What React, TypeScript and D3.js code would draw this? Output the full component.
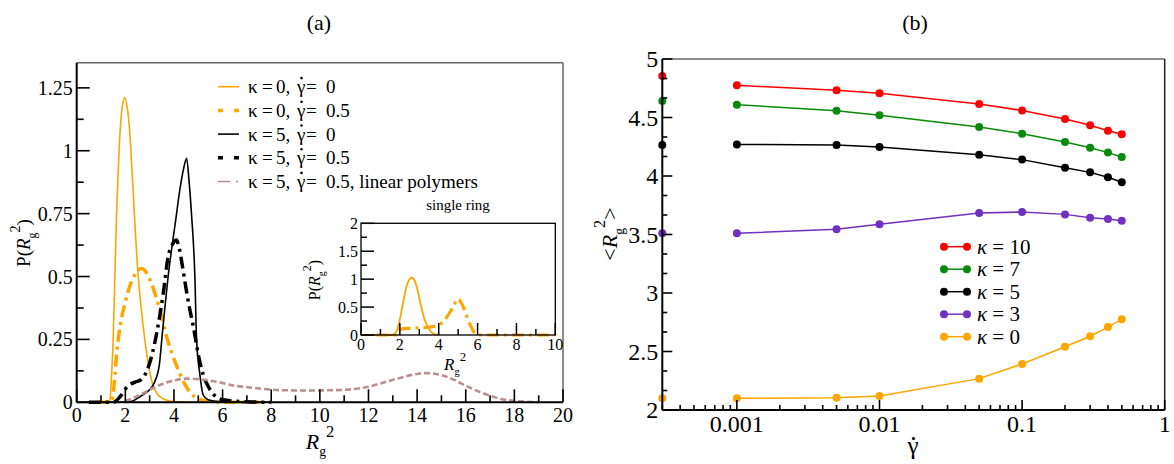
import React from "react";
import * as d3 from "d3";

// ---------- Panel (a) data: P(Rg^2) distributions ----------
const k0g0X = [0.5, 1.3, 1.37, 1.43, 1.5, 1.57, 1.64, 1.72, 1.8, 1.9, 1.98, 2.08, 2.16, 2.23, 2.37, 2.53, 2.68, 2.8, 2.95, 3.1, 3.3, 3.6, 4.0, 5.0, 7.5];
const k0g0Y = [0, 0, 0.01, 0.1, 0.25, 0.5, 0.75, 0.95, 1.1, 1.19, 1.21, 1.17, 1.1, 1.0, 0.75, 0.5, 0.35, 0.25, 0.15, 0.08, 0.035, 0.012, 0.003, 0, 0];

const k0g05X = [0.8, 1.3, 1.45, 1.55, 1.65, 1.8, 2.0, 2.25, 2.45, 2.67, 2.9, 3.08, 3.42, 3.7, 4.05, 4.4, 4.7, 5.0, 5.5, 6.0, 7.5];
const k0g05Y = [0, 0, 0.01, 0.08, 0.2, 0.31, 0.4, 0.48, 0.515, 0.532, 0.51, 0.47, 0.367, 0.26, 0.16, 0.08, 0.035, 0.015, 0.003, 0, 0];

const k5g0X = [0.5, 2.0, 2.3, 2.6, 2.8, 3.0, 3.2, 3.4, 3.5, 3.62, 3.76, 3.92, 4.08, 4.25, 4.4, 4.52, 4.62, 4.72, 4.86, 4.93, 5.06, 5.2, 5.4, 5.8, 6.5, 8.0];
const k5g0Y = [0, 0, 0.005, 0.022, 0.035, 0.05, 0.08, 0.15, 0.25, 0.37, 0.5, 0.62, 0.73, 0.85, 0.93, 0.97, 0.88, 0.75, 0.5, 0.25, 0.115, 0.03, 0.01, 0.003, 0, 0];

const k5g05X = [0.5, 1.5, 1.78, 2.1, 2.4, 2.65, 2.9, 3.1, 3.3, 3.56, 3.76, 3.95, 4.1, 4.2, 4.35, 4.5, 4.65, 4.8, 5.0, 5.2, 5.4, 5.6, 6.0, 7.0, 8.0];
const k5g05Y = [0, 0, 0.022, 0.065, 0.08, 0.09, 0.128, 0.19, 0.28, 0.433, 0.578, 0.63, 0.645, 0.62, 0.54, 0.45, 0.37, 0.3, 0.19, 0.11, 0.065, 0.035, 0.01, 0.002, 0];

const linX = [2.0, 2.4, 2.74, 3.1, 3.5, 4.0, 4.5, 5.0, 5.84, 6.43, 7.2, 8.5, 9.5, 10.5, 11.1, 12.0, 12.5, 13.1, 13.7, 14.35, 15.0, 15.5, 16.0, 16.6, 17.2, 17.7, 18.2, 18.7, 19.0];
const linY = [0.005, 0.02, 0.036, 0.055, 0.072, 0.087, 0.094, 0.092, 0.08, 0.067, 0.058, 0.048, 0.047, 0.048, 0.05, 0.062, 0.075, 0.092, 0.107, 0.116, 0.108, 0.09, 0.066, 0.04, 0.02, 0.009, 0.004, 0.001, 0];

// inset: single ring
const ringG0X = [0, 1.5, 1.75, 1.95, 2.15, 2.35, 2.5, 2.61, 2.75, 2.9, 3.1, 3.3, 3.55, 3.8, 4.0];
const ringG0Y = [0, 0, 0.02, 0.2, 0.55, 0.88, 1.0, 1.03, 0.98, 0.82, 0.5, 0.25, 0.08, 0.01, 0];
const ringG05X = [0.8, 1.8, 2.0, 2.5, 3.0, 3.5, 4.0, 4.3, 4.6, 4.8, 5.0, 5.2, 5.4, 5.6, 5.8, 6.0, 7.0, 10.0];
const ringG05Y = [0, 0, 0.1, 0.12, 0.13, 0.14, 0.18, 0.27, 0.42, 0.55, 0.65, 0.55, 0.38, 0.2, 0.06, 0, 0, 0];

const aXTicks = [0, 2, 4, 6, 8, 10, 12, 14, 16, 18, 20];
const aYTicks = [0, 0.25, 0.5, 0.75, 1, 1.25];
const aYTickLabels = ["0", "0.25", "0.5", "0.75", "1", "1.25"];
const insetXTicks = [0, 2, 4, 6, 8, 10];
const insetYTicks = [0, 0.5, 1, 1.5, 2];
const insetYTickLabels = ["0", "0.5", "1", "1.5", "2"];

const legendA = [
  { k: "0", g: "0", key: "k0g0" },
  { k: "0", g: "0.5", key: "k0g05" },
  { k: "5", g: "0", key: "k5g0" },
  { k: "5", g: "0.5", key: "k5g05" },
  { k: "5", g: "0.5, linear polymers", key: "lin" },
];

// ---------- Panel (b) data: <Rg^2> vs shear rate ----------
const gammaDot = [0.001, 0.005, 0.01, 0.05, 0.1, 0.2, 0.3, 0.4, 0.5];
const rgK10 = [4.775, 4.732, 4.707, 4.615, 4.56, 4.487, 4.433, 4.387, 4.356];
const rgK7 = [4.61, 4.558, 4.519, 4.419, 4.362, 4.29, 4.242, 4.2, 4.162];
const rgK5 = [4.27, 4.265, 4.248, 4.182, 4.14, 4.071, 4.031, 3.989, 3.946];
const rgK3 = [3.51, 3.544, 3.587, 3.684, 3.692, 3.672, 3.644, 3.632, 3.618];
const rgK0 = [2.1, 2.105, 2.12, 2.268, 2.393, 2.541, 2.63, 2.709, 2.775];
const gammaZeroPos = 0.0003; // equilibrium values drawn at the axis edge
const rgEquilibrium = [4.855, 4.64, 4.265, 3.51, 2.1];
const kappaLabels = ["10", "7", "5", "3", "0"];
const kappaColors = ["#ff0000", "#0a8a0a", "#000000", "#7030c0", "#ffa500"];
const bXTicks = [0.001, 0.01, 0.1, 1];
const bXTickLabels = ["0.001", "0.01", "0.1", "1"];
const bYTicks = [2, 2.5, 3, 3.5, 4, 4.5, 5];
const bYTickLabels = ["2", "2.5", "3", "3.5", "4", "4.5", "5"];

const FONT = "'Liberation Serif', 'Times New Roman', serif";
const DASHDOT = "12,5,3,5";

// R_g^2 with optional trailing text returning to the baseline
function Rg2({ size, after }: { size: number; after?: string }) {
  return (
    <>
      <tspan fontStyle="italic">R</tspan>
      <tspan fontSize={size * 0.62} dy={size * 0.3}>g</tspan>
      <tspan fontSize={size * 0.75} dy={-size * 0.85}>2</tspan>
      {after ? <tspan dy={size * 0.55}>{after}</tspan> : null}
    </>
  );
}

export default function App() {
  // panel (a) scales
  const ax = d3.scaleLinear().domain([0, 20]).range([76.7, 563]);
  const ay = d3.scaleLinear().domain([0, 1.35]).range([402.3, 62.7]);
  const ix = d3.scaleLinear().domain([0, 10]).range([361, 555.3]);
  const iy = d3.scaleLinear().domain([0, 2]).range([335, 223.3]);
  // panel (b) scales
  const bx = d3.scaleLog().domain([0.0003, 1]).range([662.3, 1164.7]);
  const by = d3.scaleLinear().domain([2, 5]).range([410, 59]);

  const lineA = (xs: number[], ys: number[]) =>
    d3.line<number>().x((_, i) => ax(xs[i])).y((_, i) => ay(ys[i])).curve(d3.curveMonotoneX)(xs) || "";
  const lineI = (xs: number[], ys: number[]) =>
    d3.line<number>().x((_, i) => ix(xs[i])).y((_, i) => iy(ys[i])).curve(d3.curveMonotoneX)(xs) || "";
  const lineB = (ys: number[]) =>
    d3.line<number>().x((_, i) => bx(gammaDot[i])).y((d) => by(d))(ys) || "";

  const aXMinor = d3.range(1, 20, 2);
  const aYMinor = d3.range(0.125, 1.35, 0.25);
  const iXMinor = d3.range(1, 10, 2);
  const iYMinor = d3.range(0.25, 2, 0.5);
  const bYMinor: number[] = [];
  for (let v = 2; v < 5; v += 0.5) { bYMinor.push(v + 0.5 / 3, v + 1 / 3); }
  const bXMinor: number[] = [];
  [0.0001, 0.001, 0.01, 0.1].forEach((dec) => {
    for (let m = 2; m <= 9; m++) { const v = dec * m; if (v > 0.0003 && v < 1) bXMinor.push(v); }
  });

  const aSeries = [
    { key: "k0g0", d: lineA(k0g0X, k0g0Y), stroke: "#ffa500", w: 1.6, dash: undefined },
    { key: "k0g05", d: lineA(k0g05X, k0g05Y), stroke: "#ffa500", w: 3.5, dash: DASHDOT },
    { key: "k5g0", d: lineA(k5g0X, k5g0Y), stroke: "#000", w: 1.6, dash: undefined },
    { key: "k5g05", d: lineA(k5g05X, k5g05Y), stroke: "#000", w: 3.5, dash: DASHDOT },
    { key: "lin", d: lineA(linX, linY), stroke: "#bc8f8f", w: 2.6, dash: "6,3" },
  ];
  const legendStyle: Record<string, { stroke: string; w: number; dash?: string }> = {
    k0g0: { stroke: "#ffa500", w: 1.6 },
    k0g05: { stroke: "#ffa500", w: 3.5, dash: "5,11,5" },
    k5g0: { stroke: "#000", w: 1.6 },
    k5g05: { stroke: "#000", w: 3.5, dash: "5,11,5" },
    lin: { stroke: "#bc8f8f", w: 1.6, dash: "12,6,2,6" },
  };
  const bSeries = [rgK10, rgK7, rgK5, rgK3, rgK0];
  const LGF = 19;
  const LX = 248;

  return (
    <div style={{ position: "fixed", left: 0, top: 0 }}>
      <svg width={1174} height={464} style={{ display: "block", background: "#fff" }} fontFamily={FONT}>
        {/* ===== Panel (a) ===== */}
        <text x={319} y={30} fontSize={22} textAnchor="middle">(a)</text>
        <g>
          {aSeries.map((s) => (
            <path key={s.key} d={s.d} fill="none" stroke={s.stroke} strokeWidth={s.w} strokeDasharray={s.dash} />
          ))}
          {/* frame */}
          <line x1={ax(0)} x2={ax(20)} y1={ay(1.35)} y2={ay(1.35)} stroke="#666" strokeWidth={1.5} />
          <line x1={ax(20)} x2={ax(20)} y1={ay(1.35)} y2={ay(0)} stroke="#666" strokeWidth={1.5} />
          <line x1={ax(0)} x2={ax(20)} y1={ay(0)} y2={ay(0)} stroke="#000" strokeWidth={2} />
          <line x1={ax(0)} x2={ax(0)} y1={ay(1.35)} y2={ay(0)} stroke="#000" strokeWidth={2} />
          {aXTicks.map((t) => (
            <g key={"ax" + t}>
              <line x1={ax(t)} x2={ax(t)} y1={ay(0)} y2={ay(0) - 13} stroke="#000" strokeWidth={1.6} />
              <text x={ax(t)} y={ay(0) + 20} fontSize={20} textAnchor="middle">{t}</text>
            </g>
          ))}
          {aXMinor.map((t) => (
            <line key={"axm" + t} x1={ax(t)} x2={ax(t)} y1={ay(0)} y2={ay(0) - 7} stroke="#000" strokeWidth={1.6} />
          ))}
          {aYTicks.map((t, i) => (
            <g key={"ay" + t}>
              <line x1={ax(0)} x2={ax(0) + 13} y1={ay(t)} y2={ay(t)} stroke="#000" strokeWidth={1.6} />
              <text x={ax(0) - 4} y={ay(t) + 7} fontSize={20} textAnchor="end">{aYTickLabels[i]}</text>
            </g>
          ))}
          {aYMinor.map((t) => (
            <line key={"aym" + t} x1={ax(0)} x2={ax(0) + 7} y1={ay(t)} y2={ay(t)} stroke="#000" strokeWidth={1.6} />
          ))}
          <text x={320} y={449} fontSize={22} textAnchor="middle"><Rg2 size={22} /></text>
          <text transform="translate(30,243) rotate(-90)" fontSize={19} textAnchor="middle">
            P(<Rg2 size={19} after=")" />
          </text>
          {/* legend */}
          {legendA.map((l, i) => {
            const y = 86.7 + i * 23.7;
            const st = legendStyle[l.key];
            return (
              <g key={"la" + l.key}>
                <line x1={218} x2={239} y1={y} y2={y} stroke={st.stroke} strokeWidth={st.w} strokeDasharray={st.dash} />
                <text y={y + 6.6} fontSize={LGF}>
                  <tspan x={LX}>{"\u03ba"}</tspan>
                  <tspan x={LX + 14}>=</tspan>
                  <tspan x={LX + 28}>{l.k + ","}</tspan>
                  <tspan x={LX + 49}>{"\u03b3"}</tspan>
                  <tspan x={LX + 58}>=</tspan>
                  <tspan x={LX + 78}>{l.g}</tspan>
                </text>
                <circle cx={LX + 53.5} cy={y - 8.6} r={1.3} fill="#000" />
              </g>
            );
          })}
        </g>

        {/* ===== Inset ===== */}
        <g>
          <path d={lineI(ringG0X, ringG0Y)} fill="none" stroke="#ffa500" strokeWidth={1.8} />
          <path d={lineI(ringG05X, ringG05Y)} fill="none" stroke="#ffa500" strokeWidth={3.2} strokeDasharray={DASHDOT} />
          <rect x={ix(0)} y={iy(2)} width={ix(10) - ix(0)} height={iy(0) - iy(2)} fill="none" stroke="#000" strokeWidth={1.3} />
          {insetXTicks.map((t) => (
            <g key={"ix" + t}>
              <line x1={ix(t)} x2={ix(t)} y1={iy(0)} y2={iy(0) - 12} stroke="#000" strokeWidth={1.5} />
              <text x={ix(t)} y={iy(0) + 15} fontSize={16} textAnchor="middle">{t}</text>
            </g>
          ))}
          {iXMinor.map((t) => (
            <line key={"ixm" + t} x1={ix(t)} x2={ix(t)} y1={iy(0)} y2={iy(0) - 6} stroke="#000" strokeWidth={1.5} />
          ))}
          {insetYTicks.map((t, i) => (
            <g key={"iy" + t}>
              <line x1={ix(0)} x2={ix(0) + 13} y1={iy(t)} y2={iy(t)} stroke="#000" strokeWidth={1.5} />
              <text x={ix(0) - 3} y={iy(t) + 6} fontSize={16} textAnchor="end">{insetYTickLabels[i]}</text>
            </g>
          ))}
          {iYMinor.map((t) => (
            <line key={"iym" + t} x1={ix(0)} x2={ix(0) + 6} y1={iy(t)} y2={iy(t)} stroke="#000" strokeWidth={1.5} />
          ))}
          <text x={458} y={210} fontSize={15} textAnchor="middle">single ring</text>
          <text x={455} y={370} fontSize={17} textAnchor="middle"><Rg2 size={17} /></text>
          <text transform="translate(320,280) rotate(-90)" fontSize={16} textAnchor="middle">
            P(<Rg2 size={16} after=")" />
          </text>
        </g>

        {/* ===== Panel (b) ===== */}
        <text x={915} y={30} fontSize={22} textAnchor="middle">(b)</text>
        <g>
          {bSeries.map((ys, si) => (
            <g key={"bs" + si}>
              <path d={lineB(ys)} fill="none" stroke={kappaColors[si]} strokeWidth={1.5} />
              {ys.map((v, i) => (
                <circle key={i} cx={bx(gammaDot[i])} cy={by(v)} r={4} fill={kappaColors[si]} />
              ))}
              <circle cx={bx(gammaZeroPos)} cy={by(rgEquilibrium[si])} r={4} fill={kappaColors[si]} />
            </g>
          ))}
          <line x1={bx(0.0003)} x2={bx(1)} y1={by(5)} y2={by(5)} stroke="#666" strokeWidth={1.5} />
          <line x1={bx(1)} x2={bx(1)} y1={by(5)} y2={by(2)} stroke="#222" strokeWidth={1.5} />
          <line x1={bx(0.0003)} x2={bx(1)} y1={by(2)} y2={by(2)} stroke="#000" strokeWidth={2} />
          <line x1={bx(0.0003)} x2={bx(0.0003)} y1={by(5)} y2={by(2)} stroke="#000" strokeWidth={2} />
          {bXTicks.map((t, i) => (
            <g key={"bx" + t}>
              <line x1={bx(t)} x2={bx(t)} y1={by(2)} y2={by(2) - 10} stroke="#000" strokeWidth={1.6} />
              <text x={bx(t)} y={by(2) + 22} fontSize={24} textAnchor="middle">{bXTickLabels[i]}</text>
            </g>
          ))}
          {bXMinor.map((t) => (
            <line key={"bxm" + t} x1={bx(t)} x2={bx(t)} y1={by(2)} y2={by(2) - 5} stroke="#000" strokeWidth={1.6} />
          ))}
          {bYTicks.map((t, i) => (
            <g key={"by" + t}>
              <line x1={bx(0.0003)} x2={bx(0.0003) + 10} y1={by(t)} y2={by(t)} stroke="#000" strokeWidth={1.6} />
              <text x={bx(0.0003) - 4} y={by(t) + 8} fontSize={24} textAnchor="end">{bYTickLabels[i]}</text>
            </g>
          ))}
          {bYMinor.map((t, i) => (
            <line key={"bym" + i} x1={bx(0.0003)} x2={bx(0.0003) + 5} y1={by(t)} y2={by(t)} stroke="#000" strokeWidth={1.6} />
          ))}
          <text x={913} y={454} fontSize={25} textAnchor="middle">{"\u03b3"}</text>
          <circle cx={913.5} cy={438.5} r={1.6} fill="#000" />
          <text transform="translate(617,234) rotate(-90)" fontSize={22} textAnchor="middle">
            {"<"}<Rg2 size={22} after=">" />
          </text>
          {/* legend */}
          {kappaLabels.map((k, i) => {
            const y = 246.7 + i * 22.5;
            return (
              <g key={"lb" + k}>
                <line x1={944} x2={967} y1={y} y2={y} stroke={kappaColors[i]} strokeWidth={1.5} />
                <circle cx={944} cy={y} r={4} fill={kappaColors[i]} />
                <circle cx={967} cy={y} r={4} fill={kappaColors[i]} />
                <text x={977} y={y + 7} fontSize={21}>
                  <tspan fontStyle="italic">{"\u03ba"}</tspan>{" = " + k}
                </text>
              </g>
            );
          })}
        </g>
      </svg>
    </div>
  );
}
